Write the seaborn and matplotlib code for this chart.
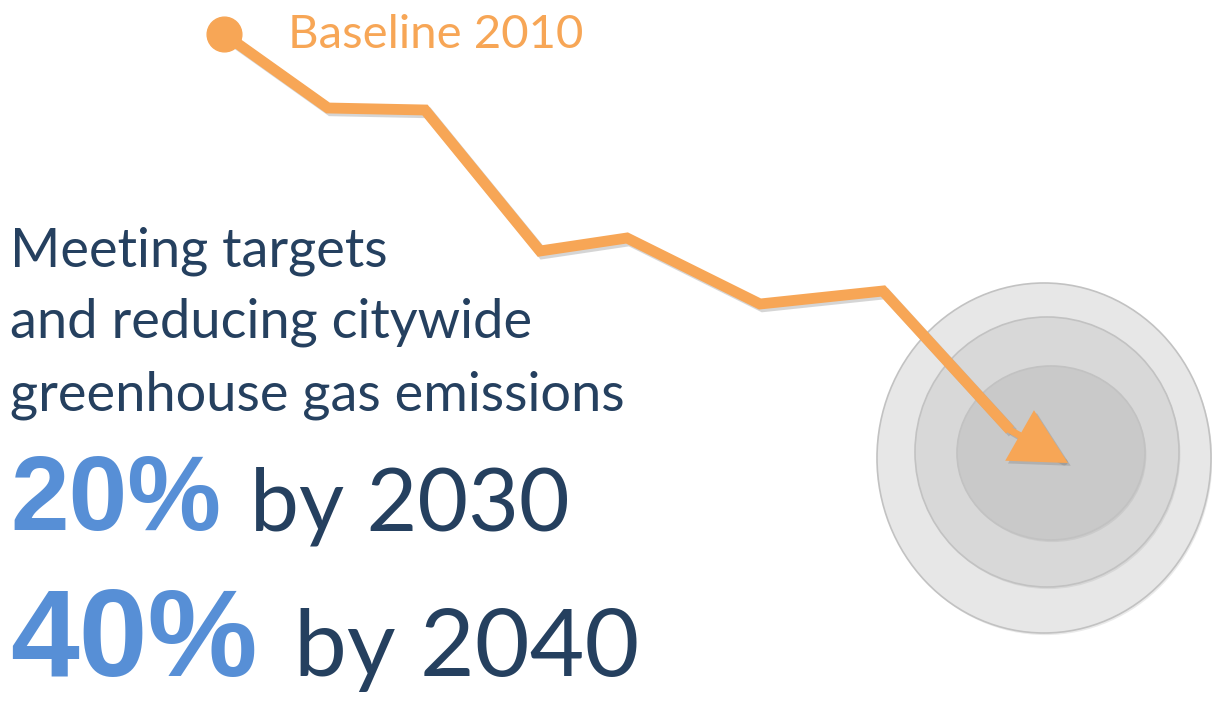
import matplotlib
matplotlib.use("Agg")
import matplotlib.pyplot as plt
import matplotlib.patheffects as pe
from matplotlib.patches import Ellipse
import seaborn as sns
import pandas as pd

# ---- data ----
step = [0.0, 1.04, 2.01, 3.16, 4.03, 5.36, 6.59, 7.86]          # position along the path
emissions = [100.0, 92.6, 92.4, 78.3, 79.6, 73.0, 74.3, 60.4]   # emissions index (baseline = 100)
target_step = 8.44
target_emissions = 57.1
ring_x = [8.20, 8.23, 8.27]
ring_y = [57.6, 58.2, 58.1]
ring_w = [3.34, 2.64, 1.88]
ring_h = [35.0, 27.0, 17.4]
ring_colors = ["#e7e7e7", "#d8d8d8", "#c9c9c9"]

baseline_label = "Baseline 2010"
intro_lines = ["Meeting targets", "and reducing citywide", "greenhouse gas emissions"]
targets_pct = ["20%", "40%"]
targets_year = ["by 2030", "by 2040"]

ORANGE = "#f7a656"
BLUE = "#578fd6"
NAVY = "#25405f"

sns.set_theme(style="white")
plt.rcParams["font.family"] = ["Lato", "DejaVu Sans"]

W, H = 1212, 702
fig = plt.figure(figsize=(W / 100, H / 100), dpi=100)
fig.patch.set_facecolor("white")
ax = fig.add_axes([0, 0, 1, 1])
ax.set_xlim(-2.24, 9.88)
ax.set_ylim(33.2, 103.4)
ax.axis("off")

# target rings
for x, y, w, h, c in zip(ring_x, ring_y, ring_w, ring_h, ring_colors):
    e = Ellipse((x, y), w, h, facecolor=c, edgecolor="#c2c2c2", lw=1.2, zorder=1,
                path_effects=[pe.withSimplePatchShadow(offset=(1, -1.5), shadow_rgbFace="#999999", alpha=0.2)])
    ax.add_patch(e)

df = pd.DataFrame({"step": step, "emissions": emissions})
shadow = [pe.SimpleLineShadow(offset=(2, -2), shadow_color="#777777", alpha=0.3), pe.Normal()]
sns.lineplot(data=df, x="step", y="emissions", ax=ax, sort=False, color=ORANGE, lw=7.8,
             solid_joinstyle="miter", solid_capstyle="butt", zorder=3, path_effects=shadow)
ax.plot(step[:1], emissions[:1], "o", color=ORANGE, ms=25, zorder=4)

ax.annotate("", xy=(target_step, target_emissions), xytext=(step[-1], emissions[-1]),
            arrowprops=dict(arrowstyle="-|>,head_length=1.15,head_width=0.6", mutation_scale=28,
                            lw=5, color=ORANGE, shrinkA=0, shrinkB=0, joinstyle="miter",
                            path_effects=shadow), zorder=3)
ax.set_xlabel("")
ax.set_ylabel("")

def px(x, y):
    return x / W, 1 - y / H

fig.text(*px(288, 48), baseline_label, color=ORANGE, fontsize=34, family="Lato", va="baseline")

for i, line in enumerate(intro_lines):
    fig.text(*px(10, 266 + i * 72), line, color=NAVY, fontsize=39, family="Lato", va="baseline")

pct_x = [10, 10]
pct_y = [530, 676]
pct_size = [76, 89]
yr_x = [250, 294]
yr_size = [63, 68]
for i in range(2):
    fig.text(*px(pct_x[i], pct_y[i]), targets_pct[i], color=BLUE, fontsize=pct_size[i],
             family="Liberation Sans", weight="bold", va="baseline")
    fig.text(*px(yr_x[i], pct_y[i]), targets_year[i], color=NAVY, fontsize=yr_size[i],
             family="Lato", va="baseline")

fig.savefig("out.png", dpi=100)
